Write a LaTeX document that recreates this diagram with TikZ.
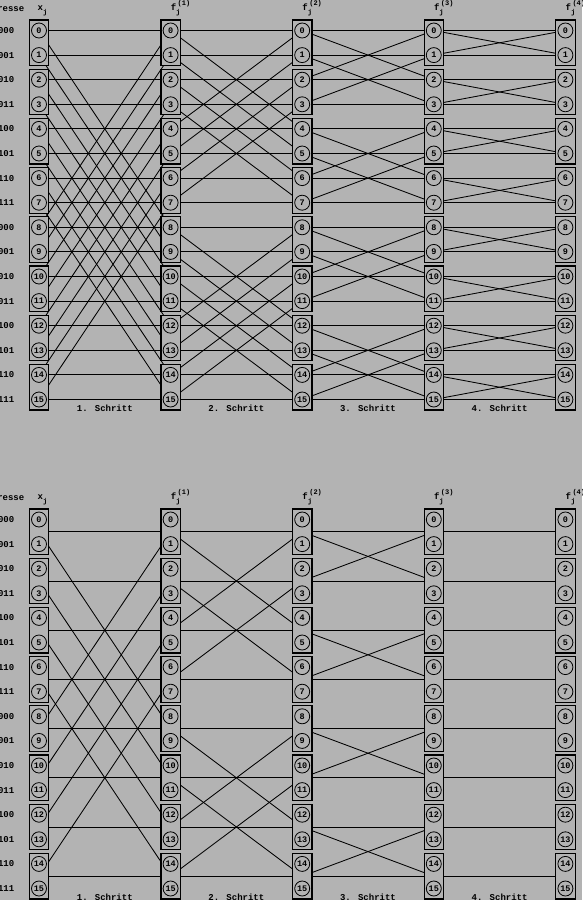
\documentclass[tikz,border=0pt]{standalone}
\usepackage{fontspec}
\newfontfamily\dfont{Liberation Mono}
\definecolor{bggray}{RGB}{179,179,179}
\newcommand\mysubfont{\fontsize{7}{7}\selectfont}
\pgfdeclarelayer{bgl}
\pgfdeclarelayer{linel}
\pgfsetlayers{bgl,linel,main}
\begin{document}
\begin{tikzpicture}[x=1pt,y=-1pt,
  pairbox/.style={draw, line width=1.2pt, fill=bggray, minimum width=19.4pt, minimum height=45.6pt, inner sep=0pt, outer sep=0pt},
  numcirc/.style={circle, draw, line width=0.8pt, fill=bggray, minimum size=15pt, inner sep=0pt, font=\dfont\bfseries\fontsize{8.5}{8.5}\selectfont},
  wire/.style={line width=0.85pt},
  lbl/.style={font=\dfont\bfseries\fontsize{9}{9}\selectfont, inner sep=0pt},
  hdr/.style={font=\dfont\bfseries\fontsize{9}{9}\selectfont, inner sep=0pt, anchor=base west}
]
\useasboundingbox (0,0) rectangle (582,900);
\begin{pgfonlayer}{bgl}
\fill[bggray] (0,0) rectangle (582,900);
\end{pgfonlayer}

% boxes and circles
\foreach \c in {0,...,4}{
  \pgfmathsetmacro{\xc}{39+131.6*\c}
  \foreach \m in {0,...,7}{
    \pgfmathsetmacro{\ym}{30.5+24.6*(2*\m+0.5)}
    \node[pairbox] (tb-\c-\m) at (\xc,\ym) {};
    \node[pairbox] (bb-\c-\m) at (\xc,\ym+489) {};
  }
  \foreach \k in {0,...,15}{
    \pgfmathsetmacro{\yk}{30.5+24.6*\k}
    \node[numcirc] (t-\c-\k) at (\xc,\yk) {\k};
    \node[numcirc] (b-\c-\k) at (\xc,\yk+489) {\k};
  }
}

% connectors
\begin{pgfonlayer}{linel}
\foreach \s/\d in {1/8,2/4,3/2,4/1}{
  \pgfmathtruncatemacro{\src}{\s-1}
  \foreach \k in {0,...,15}{
    \pgfmathtruncatemacro{\p}{mod(floor(\k/\d),2)==0 ? \k+\d : \k-\d}
    \draw[wire] (t-\src-\k.center) -- (t-\s-\k.center);
    \draw[wire] (t-\src-\k.center) -- (t-\s-\p.center);
  }
}
\foreach \s in {1,...,4}{
  \pgfmathtruncatemacro{\src}{\s-1}
  \foreach \m in {0,...,7}{
    \draw[wire] (bb-\src-\m.center) -- (bb-\s-\m.center);
  }
}
\foreach \s/\d in {1/4,2/2,3/1}{
  \pgfmathtruncatemacro{\src}{\s-1}
  \foreach \m in {0,...,7}{
    \pgfmathtruncatemacro{\p}{mod(floor(\m/\d),2)==0 ? \m+\d : \m-\d}
    \draw[wire] (bb-\src-\m.center) -- (bb-\s-\p.center);
  }
}
\end{pgfonlayer}

% address labels
\node[lbl, anchor=base east] (adr-t) at (24.5,11) {Adresse};
\node[lbl, anchor=base east] (adr-b) at (24.5,500) {Adresse};
\foreach \k/\bin in {0/0000,1/0001,2/0010,3/0011,4/0100,5/0101,6/0110,7/0111,8/1000,9/1001,10/1010,11/1011,12/1100,13/1101,14/1110,15/1111}{
  \pgfmathsetmacro{\yk}{30.5+24.6*\k}
  \node[lbl, anchor=east] (at-\k) at (14.5,\yk) {\bin};
  \node[lbl, anchor=east] (ab-\k) at (14.5,\yk+489) {\bin};
}

% column headers
\node[hdr] (hx-t) at (37.5,10.5) {x\raisebox{-4pt}{\mysubfont j}};
\node[hdr] (hx-b) at (37.5,499.5) {x\raisebox{-4pt}{\mysubfont j}};
\foreach \c in {1,...,4}{
  \pgfmathsetmacro{\xc}{39+131.6*\c}
  \node[hdr] (hf-t-\c) at (\xc,10.5) {f\rlap{\raisebox{-4pt}{\mysubfont j}}\hspace{1.5pt}\raisebox{5pt}{\mysubfont (\c)}};
  \node[hdr] (hf-b-\c) at (\xc,499.5) {f\rlap{\raisebox{-4pt}{\mysubfont j}}\hspace{1.5pt}\raisebox{5pt}{\mysubfont (\c)}};
}

% step labels
\foreach \s in {1,...,4}{
  \pgfmathsetmacro{\xm}{39+131.6*(\s-0.5)}
  \node[lbl, anchor=base] (st-t-\s) at (\xm,411) {\s. Schritt};
  \node[lbl, anchor=base] (st-b-\s) at (\xm,900) {\s. Schritt};
}
\end{tikzpicture}
\end{document}
